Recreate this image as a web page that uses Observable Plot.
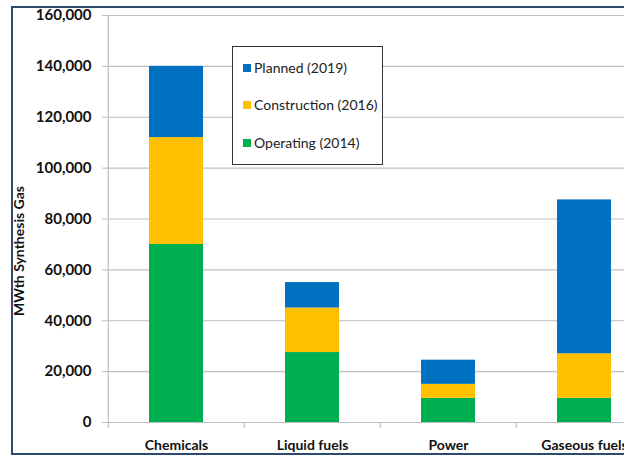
<!DOCTYPE html>
<html>
<head>
<meta charset="utf-8">
<script src="https://cdn.jsdelivr.net/npm/d3@7"></script>
<script src="https://cdn.jsdelivr.net/npm/@observablehq/plot@0.6"></script>
<style>
  html, body { margin: 0; padding: 0; background: white; overflow: hidden; }
  #wrap { position: relative; width: 624px; height: 458px; overflow: hidden; font-family: Lato, sans-serif; }
  #border { position: absolute; left: 11px; top: 6px; width: 700px; height: 449px; border: 2px solid #2F4A6F; box-sizing: border-box; }
  #chart { position: absolute; left: 0; top: 0; }
  #ytitle { position: absolute; left: 18px; top: 251px; transform: translate(-50%, -50%) rotate(-90deg);
            white-space: nowrap; font-size: 14px; font-weight: bold; color: #111; }
  #legend { position: absolute; left: 232px; top: 46px; width: 151px; height: 119px; box-sizing: border-box;
            border: 1.5px solid #333; background: white; }
  .item { position: absolute; left: 10px; font-size: 14px; color: #222; white-space: nowrap; line-height: 16px; }
  .sw { display: inline-block; width: 8px; height: 8px; margin-right: 3px; vertical-align: 1px; }
</style>
</head>
<body>
<div id="wrap">
  <div id="border"></div>
  <div id="chart"></div>
  <div id="ytitle">MWth Synthesis Gas</div>
  <div id="legend"></div>
</div>
<script>
// Synthesis gas capacity (MWth) by end use, stacked by project status
const categories = ["Chemicals", "Liquid fuels", "Power", "Gaseous fuels"];
const seriesNames = ["Operating (2014)", "Construction (2016)", "Planned (2019)"];
const seriesColors = ["#00B050", "#FFC000", "#0070C0"];
const operating = [70000, 27500, 9500, 9500];
const construction = [42000, 17500, 5500, 17500];
const planned = [28000, 10000, 9500, 60500];
const yTicks = [0, 20000, 40000, 60000, 80000, 100000, 120000, 140000, 160000];

const seriesValues = [operating, construction, planned];
const rows = [];
seriesNames.forEach((s, i) => {
  categories.forEach((c, j) => rows.push({category: c, series: s, value: seriesValues[i][j]}));
});

const grid = "#BFBFBF";
const fmt = d3.format(",");

const chart = Plot.plot({
  width: 624,
  height: 458,
  marginTop: 15,
  marginBottom: 36,
  marginLeft: 107,
  marginRight: 0,
  style: {fontFamily: "Lato, sans-serif", background: "transparent", overflow: "visible"},
  x: {domain: categories, range: [107, 653], paddingInner: 0.6, paddingOuter: 0.3},
  y: {domain: [0, 160000]},
  color: {domain: seriesNames, range: seriesColors},
  marks: [
    Plot.gridY(yTicks, {stroke: grid, strokeOpacity: 1, strokeWidth: 1.2}),
    Plot.axisY(yTicks, {tickFormat: fmt, tickSize: 5, stroke: grid, tickPadding: 11,
      fontSize: 15, fontWeight: "bold", fill: "#111", label: null}),
    Plot.barY(rows, {x: "category", y: "value", fill: "series", order: seriesNames}),
    // vertical axis line and category separators on the baseline
    Plot.ruleX([categories[0]], {dx: -68.25, y1: 0, y2: 160000, stroke: grid, strokeWidth: 1.2}),
    Plot.ruleX(categories, {dx: -68.25, y1: 0, y2: 0, insetBottom: -6, stroke: grid, strokeWidth: 1.2}),
    Plot.ruleY([0], {stroke: grid, strokeWidth: 1.2}),
    Plot.axisX({tickSize: 0, tickPadding: 18, fontSize: 14, fontWeight: "bold", fill: "#111", label: null})
  ]
});
document.getElementById("chart").appendChild(chart);

// Legend, listed top-down as Planned, Construction, Operating
const legend = document.getElementById("legend");
const tops = [13, 50, 88];
[2, 1, 0].forEach((k, i) => {
  const item = document.createElement("div");
  item.className = "item";
  item.style.top = tops[i] + "px";
  item.innerHTML = `<span class="sw" style="background:${seriesColors[k]}"></span>${seriesNames[k]}`;
  legend.appendChild(item);
});
</script>
</body>
</html>
